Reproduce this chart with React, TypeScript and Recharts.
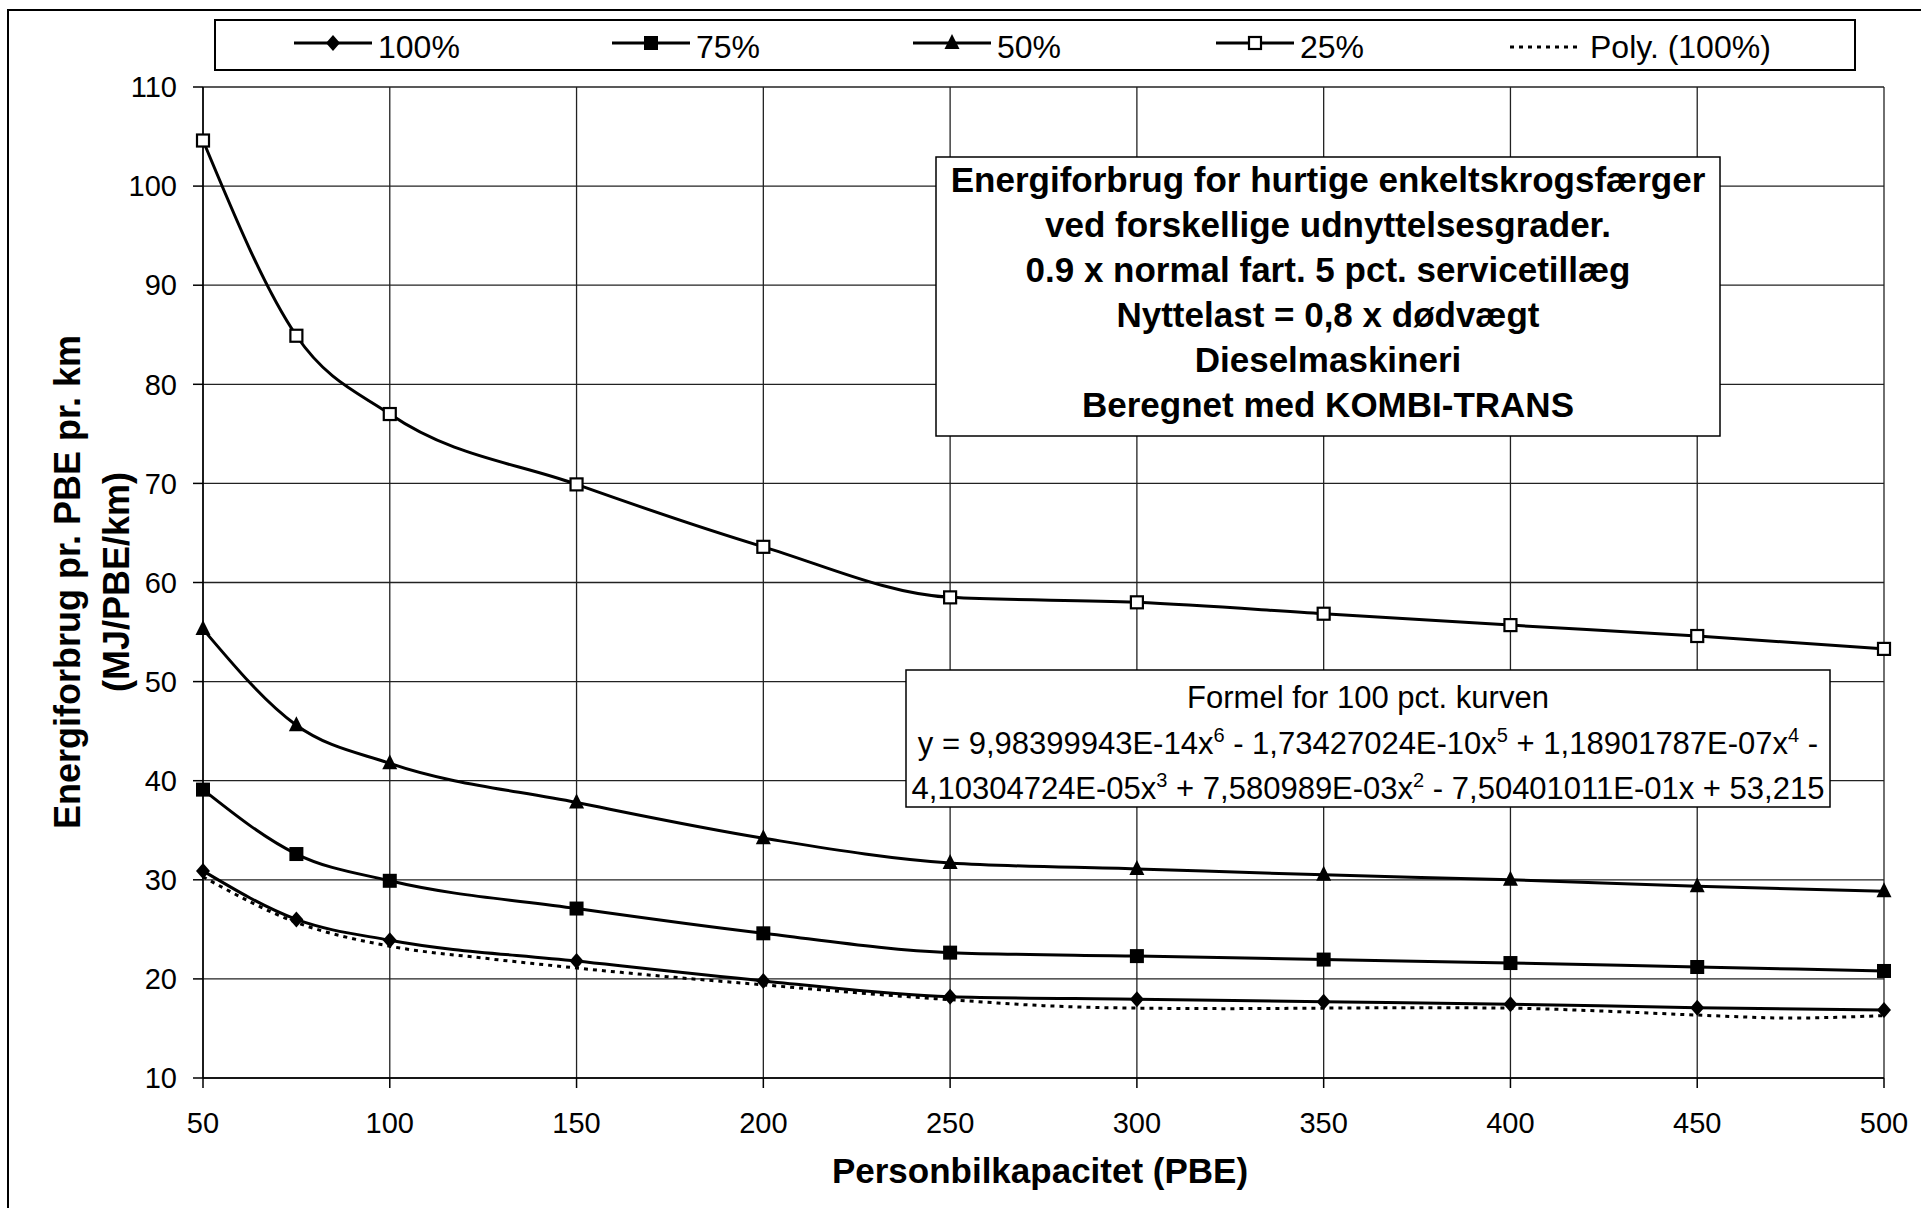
import React from "react";
import {
  LineChart,
  Line,
  XAxis,
  YAxis,
  CartesianGrid,
} from "recharts";

// Personbilkapacitet (PBE) for the measured points
const capacity = [50, 75, 100, 150, 200, 250, 300, 350, 400, 450, 500];

// Energiforbrug (MJ/PBE/km) per udnyttelsesgrad
const load100 = [30.9, 26.0, 23.9, 21.8, 19.8, 18.2, 17.95, 17.7, 17.45, 17.1, 16.85];
const load75 = [39.1, 32.6, 29.9, 27.1, 24.6, 22.65, 22.3, 21.95, 21.6, 21.2, 20.8];
const load50 = [55.3, 45.6, 41.75, 37.8, 34.2, 31.7, 31.1, 30.5, 30.0, 29.35, 28.85];
const load25 = [104.6, 84.9, 77.0, 69.9, 63.6, 58.5, 58.0, 56.85, 55.7, 54.6, 53.3];

// trend line (Poly. (100%))
const polyX = [50, 75, 100, 125, 150, 175, 200, 225, 250, 275, 300, 325, 350, 375, 400, 425, 450, 475, 500];
const polyY = [30.3, 25.7, 23.3, 22.1, 21.1, 20.2, 19.4, 18.6, 17.9, 17.3, 17.05, 17.0, 17.05, 17.1, 17.05, 16.75, 16.35, 16.05, 16.3];

const xTicks = [50, 100, 150, 200, 250, 300, 350, 400, 450, 500];
const yTicks = [10, 20, 30, 40, 50, 60, 70, 80, 90, 100, 110];

const titleLines = [
  "Energiforbrug for hurtige enkeltskrogsfærger",
  "ved forskellige udnyttelsesgrader.",
  "0.9 x normal fart. 5 pct. servicetillæg",
  "Nyttelast = 0,8 x dødvægt",
  "Dieselmaskineri",
  "Beregnet med KOMBI-TRANS",
];

const FONT = "'Liberation Sans', Arial, sans-serif";
const W = 1921;
const H = 1208;

type Marker = "diamond" | "square" | "triangle" | "openSquare" | "none";

const series: { key: string; name: string; values: number[]; marker: Marker }[] = [
  { key: "p100", name: "100%", values: load100, marker: "diamond" },
  { key: "p75", name: "75%", values: load75, marker: "square" },
  { key: "p50", name: "50%", values: load50, marker: "triangle" },
  { key: "p25", name: "25%", values: load25, marker: "openSquare" },
];

const toRows = (values: number[]) => capacity.map((x, i) => ({ x, y: values[i] }));
const polyRows = polyX.map((x, i) => ({ x, y: polyY[i] }));

function drawMarker(kind: Marker, cx: number, cy: number, key?: string | number) {
  switch (kind) {
    case "diamond":
      return (
        <polygon
          key={key}
          points={`${cx},${cy - 8} ${cx + 7},${cy} ${cx},${cy + 8} ${cx - 7},${cy}`}
          fill="#000"
        />
      );
    case "square":
      return <rect key={key} x={cx - 7} y={cy - 7} width={14} height={14} fill="#000" />;
    case "triangle":
      return (
        <polygon
          key={key}
          points={`${cx},${cy - 9} ${cx + 7.5},${cy + 6} ${cx - 7.5},${cy + 6}`}
          fill="#000"
        />
      );
    case "openSquare":
      return (
        <rect
          key={key}
          x={cx - 6}
          y={cy - 6}
          width={12}
          height={12}
          fill="#fff"
          stroke="#000"
          strokeWidth={2.2}
        />
      );
    default:
      return <g key={key} />;
  }
}

const dotFor = (kind: Marker) => (props: any) =>
  drawMarker(kind, props.cx, props.cy, props.key ?? `${kind}-${props.index}`);

// legend item positions inside the framed legend
const legendX = [294, 612, 913, 1216, 1510];

function Overlay() {
  const sup = (t: string) => (
    <>
      <tspan dy={-12} fontSize={20}>
        {t}
      </tspan>
      <tspan dy={12}> </tspan>
    </>
  );
  return (
    <svg
      width={W}
      height={H}
      style={{ position: "absolute", left: 0, top: 0, pointerEvents: "none" }}
      fontFamily={FONT}
    >
      {/* outer frame */}
      <rect x={8} y={10} width={W + 20} height={H + 20} fill="none" stroke="#000" strokeWidth={2} />

      {/* legend */}
      <rect x={215} y={20} width={1640} height={50} fill="#fff" stroke="#000" strokeWidth={2} />
      {series.map((s, i) => (
        <g key={s.key}>
          <line x1={legendX[i]} x2={legendX[i] + 78} y1={43} y2={43} stroke="#000" strokeWidth={3} />
          {drawMarker(s.marker, legendX[i] + 39, 43)}
          <text x={legendX[i] + 84} y={58} fontSize={32} fill="#000">
            {s.name}
          </text>
        </g>
      ))}
      <line
        x1={legendX[4]}
        x2={legendX[4] + 72}
        y1={47}
        y2={47}
        stroke="#000"
        strokeWidth={3}
        strokeDasharray="4 5"
      />
      <text x={legendX[4] + 80} y={58} fontSize={32} fill="#000">
        Poly. (100%)
      </text>

      {/* title box */}
      <rect x={936} y={157} width={784} height={279} fill="#fff" stroke="#000" strokeWidth={1.5} />
      {titleLines.map((t, i) => (
        <text
          key={t}
          x={1328}
          y={192 + i * 45}
          textAnchor="middle"
          fontSize={35}
          fontWeight="bold"
          fill="#000"
        >
          {t}
        </text>
      ))}

      {/* formula box */}
      <rect x={906} y={670} width={924} height={137} fill="#fff" stroke="#000" strokeWidth={1.5} />
      <text x={1368} y={708} textAnchor="middle" fontSize={31} fill="#000">
        Formel for 100 pct. kurven
      </text>
      <text x={1368} y={754} textAnchor="middle" fontSize={31} fill="#000">
        y = 9,98399943E-14x{sup("6")}- 1,73427024E-10x{sup("5")}+ 1,18901787E-07x{sup("4")}-
      </text>
      <text x={1368} y={799} textAnchor="middle" fontSize={31} fill="#000">
        4,10304724E-05x{sup("3")}+ 7,580989E-03x{sup("2")}- 7,50401011E-01x + 53,215
      </text>

      {/* axis titles */}
      <text
        transform="translate(67,582) rotate(-90)"
        textAnchor="middle"
        dominantBaseline="central"
        fontSize={36}
        fontWeight="bold"
        fill="#000"
      >
        Energiforbrug pr. PBE pr. km
      </text>
      <text
        transform="translate(116,582) rotate(-90)"
        textAnchor="middle"
        dominantBaseline="central"
        fontSize={36}
        fontWeight="bold"
        fill="#000"
      >
        (MJ/PBE/km)
      </text>
      <text
        x={1040}
        y={1170}
        textAnchor="middle"
        dominantBaseline="central"
        fontSize={35}
        fontWeight="bold"
        fill="#000"
      >
        Personbilkapacitet (PBE)
      </text>
    </svg>
  );
}

export default function App() {
  const tick = { fill: "#000", fontSize: 29, fontFamily: FONT };
  return (
    <div
      style={{
        position: "fixed",
        left: 0,
        top: 0,
        width: W,
        height: H,
        background: "#fff",
        overflow: "hidden",
      }}
    >
      <LineChart width={W} height={H} margin={{ top: 87, right: 37, bottom: 0, left: 0 }}>
        <CartesianGrid stroke="#222" strokeWidth={1.3} />
        <XAxis
          type="number"
          dataKey="x"
          domain={[50, 500]}
          ticks={xTicks}
          interval={0}
          height={130}
          tickSize={10}
          tickMargin={24}
          stroke="#000"
          strokeWidth={1.5}
          tick={tick}
          allowDuplicatedCategory={false}
        />
        <YAxis
          type="number"
          domain={[10, 110]}
          ticks={yTicks}
          interval={0}
          width={203}
          tickSize={10}
          tickMargin={16}
          stroke="#000"
          strokeWidth={1.5}
          tick={tick}
        />
        <Line
          data={polyRows}
          dataKey="y"
          name="Poly. (100%)"
          type="monotone"
          stroke="#000"
          strokeWidth={3}
          strokeDasharray="4 5"
          dot={false}
          activeDot={false}
          isAnimationActive={false}
        />
        {series.map((s) => (
          <Line
            key={s.key}
            data={toRows(s.values)}
            dataKey="y"
            name={s.name}
            type="monotone"
            stroke="#000"
            strokeWidth={3}
            dot={dotFor(s.marker)}
            activeDot={false}
            isAnimationActive={false}
          />
        ))}
      </LineChart>
      <Overlay />
    </div>
  );
}
